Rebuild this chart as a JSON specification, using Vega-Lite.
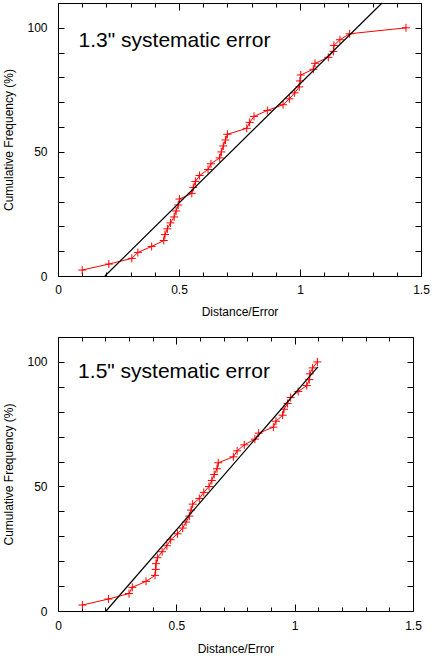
{
  "$schema": "https://vega.github.io/schema/vega-lite/v6.json",
  "background": "white",
  "padding": {"left": 2, "top": 0, "right": 2, "bottom": 2},
  "spacing": 18,
  "config": {
    "font": "Liberation Sans",
    "view": {"stroke": "black", "strokeWidth": 1},
    "axis": {
      "labelFont": "Liberation Sans", "labelFontSize": 12, "labelColor": "black",
      "titleFont": "Liberation Sans", "titleFontSize": 12, "titleFontWeight": "normal", "titleColor": "black",
      "domain": false, "grid": false, "tickColor": "black", "tickWidth": 1, "labelFlush": false
    }
  },
  "datasets": {
    "top": [
      {"d": 0.10, "f": 2.4}, {"d": 0.21, "f": 4.8}, {"d": 0.305, "f": 7.1}, {"d": 0.33, "f": 9.5},
      {"d": 0.387, "f": 11.9}, {"d": 0.437, "f": 14.3}, {"d": 0.442, "f": 16.7}, {"d": 0.452, "f": 19.0},
      {"d": 0.465, "f": 21.4}, {"d": 0.48, "f": 23.8}, {"d": 0.488, "f": 26.2}, {"d": 0.497, "f": 28.6},
      {"d": 0.502, "f": 31.0}, {"d": 0.553, "f": 33.3}, {"d": 0.559, "f": 35.7}, {"d": 0.568, "f": 38.1},
      {"d": 0.585, "f": 40.5}, {"d": 0.62, "f": 42.9}, {"d": 0.632, "f": 45.2}, {"d": 0.668, "f": 47.6},
      {"d": 0.675, "f": 50.0}, {"d": 0.683, "f": 52.4}, {"d": 0.692, "f": 54.8}, {"d": 0.70, "f": 57.1},
      {"d": 0.78, "f": 59.5}, {"d": 0.792, "f": 61.9}, {"d": 0.81, "f": 64.3}, {"d": 0.865, "f": 66.7},
      {"d": 0.93, "f": 69.0}, {"d": 0.956, "f": 71.4}, {"d": 0.978, "f": 73.8}, {"d": 0.997, "f": 76.2},
      {"d": 1.0, "f": 78.6}, {"d": 1.003, "f": 81.0}, {"d": 1.055, "f": 83.3}, {"d": 1.062, "f": 85.7},
      {"d": 1.117, "f": 88.1}, {"d": 1.138, "f": 90.5}, {"d": 1.14, "f": 92.9}, {"d": 1.165, "f": 95.2},
      {"d": 1.205, "f": 97.6}, {"d": 1.438, "f": 100}
    ],
    "topfit": [{"d": 0.194, "f": 0}, {"d": 1.339, "f": 110}],
    "bot": [
      {"d": 0.103, "f": 2.4}, {"d": 0.213, "f": 4.8}, {"d": 0.30, "f": 7.0}, {"d": 0.314, "f": 9.5},
      {"d": 0.372, "f": 11.9}, {"d": 0.41, "f": 14.3}, {"d": 0.413, "f": 16.7}, {"d": 0.414, "f": 19.0},
      {"d": 0.42, "f": 21.4}, {"d": 0.44, "f": 23.8}, {"d": 0.46, "f": 26.2}, {"d": 0.476, "f": 28.6},
      {"d": 0.505, "f": 31.0}, {"d": 0.527, "f": 33.3}, {"d": 0.541, "f": 35.7}, {"d": 0.555, "f": 38.1},
      {"d": 0.562, "f": 40.5}, {"d": 0.569, "f": 42.9}, {"d": 0.597, "f": 45.2}, {"d": 0.616, "f": 47.6},
      {"d": 0.638, "f": 50.0}, {"d": 0.65, "f": 52.4}, {"d": 0.66, "f": 54.8}, {"d": 0.672, "f": 57.1},
      {"d": 0.677, "f": 59.5}, {"d": 0.741, "f": 61.9}, {"d": 0.757, "f": 64.3}, {"d": 0.787, "f": 66.7},
      {"d": 0.832, "f": 69.0}, {"d": 0.848, "f": 71.4}, {"d": 0.91, "f": 73.8}, {"d": 0.921, "f": 76.2},
      {"d": 0.949, "f": 78.6}, {"d": 0.955, "f": 81.0}, {"d": 0.97, "f": 83.3}, {"d": 0.983, "f": 85.7},
      {"d": 1.015, "f": 88.1}, {"d": 1.051, "f": 90.5}, {"d": 1.062, "f": 92.9}, {"d": 1.064, "f": 95.2},
      {"d": 1.076, "f": 97.6}, {"d": 1.096, "f": 100}
    ],
    "botfit": [{"d": 0.203, "f": 0}, {"d": 1.098, "f": 98}]
  },
  "vconcat": [
    {
      "width": 363, "height": 273,
      "resolve": {"axis": {"x": "independent", "y": "independent"}},
      "layer": [
        {
          "data": {"name": "top"},
          "mark": {"type": "line", "color": "#ff0000", "strokeWidth": 1},
          "encoding": {
            "x": {"field": "d", "type": "quantitative", "scale": {"domain": [0, 1.5], "nice": false, "zero": false},
              "axis": {"orient": "bottom", "title": "Distance/Error", "values": [0,0.1,0.2,0.3,0.4,0.5,0.6,0.7,0.8,0.9,1,1.1,1.2,1.3,1.4,1.5],
                "labelExpr": "round(datum.value*10) % 5 === 0 ? format(datum.value, '~g') : ''",
                "tickSize": {"condition": {"test": "round(datum.value*10) % 5 === 0", "value": -7}, "value": -4},
                "labelPadding": 15, "titlePadding": 11}},
            "y": {"field": "f", "type": "quantitative", "scale": {"domain": [0, 110], "nice": false},
              "axis": {"orient": "left", "title": "Cumulative Frequency (%)", "values": [0,10,20,30,40,50,60,70,80,90,100],
                "labelExpr": "round(datum.value) % 50 === 0 ? datum.label : ''",
                "tickSize": -6, "labelPadding": 17, "titlePadding": 11}}
          }
        },
        {
          "data": {"name": "top"},
          "mark": {"type": "point", "shape": "M-1,0L1,0M0,-1L0,1", "filled": false, "color": "#ff0000", "size": 64, "strokeWidth": 1, "opacity": 1},
          "encoding": {
            "x": {"field": "d", "type": "quantitative",
              "axis": {"orient": "top", "title": null, "labels": false, "values": [0,0.1,0.2,0.3,0.4,0.5,0.6,0.7,0.8,0.9,1,1.1,1.2,1.3,1.4,1.5],
                "tickSize": {"condition": {"test": "round(datum.value*10) % 5 === 0", "value": -7}, "value": -4}}},
            "y": {"field": "f", "type": "quantitative",
              "axis": {"orient": "right", "title": null, "labels": false, "values": [0,10,20,30,40,50,60,70,80,90,100], "tickSize": -6}}
          }
        },
        {
          "data": {"name": "topfit"},
          "mark": {"type": "line", "color": "black", "strokeWidth": 1.2},
          "encoding": {
            "x": {"field": "d", "type": "quantitative", "axis": null},
            "y": {"field": "f", "type": "quantitative", "axis": null}
          }
        },
        {
          "data": {"values": [{"d": 0.085, "f": 92.4, "label": "1.3\" systematic error"}]},
          "mark": {"type": "text", "align": "left", "baseline": "alphabetic", "fontSize": 21, "font": "Liberation Sans", "color": "black"},
          "encoding": {
            "x": {"field": "d", "type": "quantitative", "axis": null},
            "y": {"field": "f", "type": "quantitative", "axis": null},
            "text": {"field": "label"}
          }
        }
      ]
    },
    {
      "width": 355, "height": 274,
      "resolve": {"axis": {"x": "independent", "y": "independent"}},
      "layer": [
        {
          "data": {"name": "bot"},
          "mark": {"type": "line", "color": "#ff0000", "strokeWidth": 1},
          "encoding": {
            "x": {"field": "d", "type": "quantitative", "scale": {"domain": [0, 1.5], "nice": false, "zero": false},
              "axis": {"orient": "bottom", "title": "Distance/Error", "values": [0,0.1,0.2,0.3,0.4,0.5,0.6,0.7,0.8,0.9,1,1.1,1.2,1.3,1.4,1.5],
                "labelExpr": "round(datum.value*10) % 5 === 0 ? format(datum.value, '~g') : ''",
                "tickSize": {"condition": {"test": "round(datum.value*10) % 5 === 0", "value": -7}, "value": -4},
                "labelPadding": 16, "titlePadding": 12}},
            "y": {"field": "f", "type": "quantitative", "scale": {"domain": [0, 110], "nice": false},
              "axis": {"orient": "left", "title": "Cumulative Frequency (%)", "values": [0,10,20,30,40,50,60,70,80,90,100],
                "labelExpr": "round(datum.value) % 50 === 0 ? datum.label : ''",
                "tickSize": -6, "labelPadding": 17, "titlePadding": 11}}
          }
        },
        {
          "data": {"name": "bot"},
          "mark": {"type": "point", "shape": "M-1,0L1,0M0,-1L0,1", "filled": false, "color": "#ff0000", "size": 64, "strokeWidth": 1, "opacity": 1},
          "encoding": {
            "x": {"field": "d", "type": "quantitative",
              "axis": {"orient": "top", "title": null, "labels": false, "values": [0,0.1,0.2,0.3,0.4,0.5,0.6,0.7,0.8,0.9,1,1.1,1.2,1.3,1.4,1.5],
                "tickSize": {"condition": {"test": "round(datum.value*10) % 5 === 0", "value": -7}, "value": -4}}},
            "y": {"field": "f", "type": "quantitative",
              "axis": {"orient": "right", "title": null, "labels": false, "values": [0,10,20,30,40,50,60,70,80,90,100], "tickSize": -6}}
          }
        },
        {
          "data": {"name": "botfit"},
          "mark": {"type": "line", "color": "black", "strokeWidth": 1.2},
          "encoding": {
            "x": {"field": "d", "type": "quantitative", "axis": null},
            "y": {"field": "f", "type": "quantitative", "axis": null}
          }
        },
        {
          "data": {"values": [{"d": 0.085, "f": 93.6, "label": "1.5\" systematic error"}]},
          "mark": {"type": "text", "align": "left", "baseline": "alphabetic", "fontSize": 21, "font": "Liberation Sans", "color": "black"},
          "encoding": {
            "x": {"field": "d", "type": "quantitative", "axis": null},
            "y": {"field": "f", "type": "quantitative", "axis": null},
            "text": {"field": "label"}
          }
        }
      ]
    }
  ]
}
